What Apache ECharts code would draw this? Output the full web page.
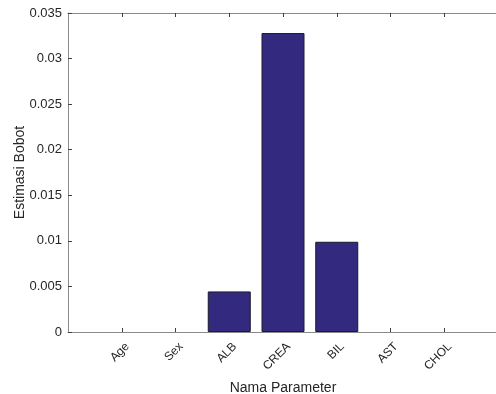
<!DOCTYPE html>
<html>
<head>
<meta charset="utf-8">
<script src="https://cdn.jsdelivr.net/npm/echarts@6/dist/echarts.min.js"></script>
<style>html,body{margin:0;padding:0;background:#fff}#c{width:496px;height:394px}</style>
</head>
<body>
<div id="c"></div>
<script>
const categories = ['Age', 'Sex', 'ALB', 'CREA', 'BIL', 'AST', 'CHOL'];
const weights = [0, 0, 0.00445, 0.0328, 0.0099, 0, 0];
const yTicks = { min: 0, max: 0.035, interval: 0.005 };

const axisData = [''].concat(categories, ['']);
const seriesData = [null].concat(weights.map(v => ({
  value: v,
  itemStyle: v === 0 ? { borderWidth: 0, opacity: 0 } : {}
})), [null]);
const font = 'Arial, "Liberation Sans", Helvetica, sans-serif';
const tickShow = (i) => i >= 1 && i <= categories.length;

const chart = echarts.init(document.getElementById('c'), null, { renderer: 'canvas' });
chart.setOption({
  animation: false,
  backgroundColor: '#ffffff',
  grid: { left: 68, right: -2, top: 13, bottom: 62, containLabel: false, outerBoundsMode: 'none' },
  xAxis: [{
    type: 'category',
    data: axisData,
    boundaryGap: false,
    position: 'bottom',
    name: 'Nama Parameter',
    nameLocation: 'middle',
    nameGap: 49,
    nameMoveOverlap: false,
    nameTextStyle: { fontFamily: font, fontSize: 14, color: '#262626' },
    axisLine: { show: true, lineStyle: { color: '#8a8a8a', width: 1 } },
    axisTick: { show: true, inside: true, length: 4, interval: tickShow, lineStyle: { color: '#404040' } },
    axisLabel: {
      show: true, rotate: 45, interval: 0, margin: 7,
      align: 'right', verticalAlign: 'top', padding: [2, 0, 0, 0],
      fontFamily: font, fontSize: 12, color: '#262626'
    },
    splitLine: { show: false }
  }, {
    type: 'category',
    data: axisData,
    boundaryGap: false,
    position: 'top',
    axisLine: { show: true, lineStyle: { color: '#8a8a8a', width: 1 } },
    axisTick: { show: true, inside: true, length: 4, interval: tickShow, lineStyle: { color: '#404040' } },
    axisLabel: { show: false },
    splitLine: { show: false }
  }],
  yAxis: [{
    type: 'value',
    min: yTicks.min,
    max: yTicks.max,
    interval: yTicks.interval,
    name: 'Estimasi Bobot',
    nameLocation: 'middle',
    nameGap: 41,
    nameMoveOverlap: false,
    nameTextStyle: { fontFamily: font, fontSize: 14, color: '#262626' },
    axisLine: { show: true, lineStyle: { color: '#8a8a8a', width: 1 } },
    axisTick: { show: true, inside: true, length: 4, lineStyle: { color: '#404040' } },
    axisLabel: { fontFamily: font, fontSize: 13, color: '#262626', margin: 6 },
    splitLine: { show: false }
  }],
  series: [{
    type: 'bar',
    xAxisIndex: 0,
    yAxisIndex: 0,
    data: seriesData,
    barWidth: '80%',
    itemStyle: { color: '#332a80', borderColor: '#1a1a2a', borderWidth: 1 }
  }]
});
</script>
</body>
</html>
